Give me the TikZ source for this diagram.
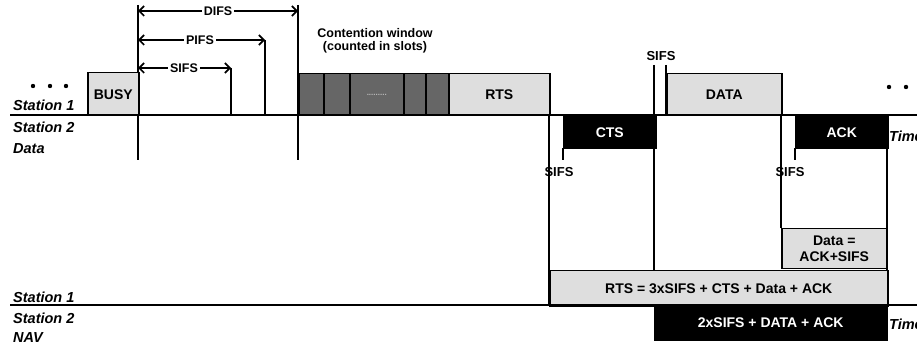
\documentclass[tikz,border=0pt]{standalone}
\usepackage{fontspec}
\setmainfont{Liberation Sans}
\usetikzlibrary{arrows.meta}
\definecolor{lightg}{RGB}{222,222,222}
\definecolor{darkg}{RGB}{102,102,102}
\begin{document}
\begin{tikzpicture}[x=1pt,y=-1pt,
  lbl/.style={font=\fontsize{14.5}{16}\selectfont\bfseries\itshape, anchor=west, inner sep=0pt},
  boxtxt/.style={font=\fontsize{14}{16}\selectfont\bfseries},
  gbox/.style={draw, line width=1.5pt, fill=lightg, boxtxt, inner sep=0pt, anchor=north west},
  bbox/.style={draw, line width=1.5pt, fill=black, text=white, boxtxt, inner sep=0pt, anchor=north west},
  slotbox/.style={draw, line width=1.5pt, fill=darkg, inner sep=0pt, anchor=north west, minimum height=42},
  tline/.style={line width=2.8pt},
  vl/.style={line width=1.6pt},
  dimline/.style={line width=1.6pt},
  dimlbl/.style={fill=white, font=\fontsize{12.5}{14}\selectfont\bfseries, inner sep=2pt},
  tip/.style={-{Straight Barb[length=5pt,width=10pt,line width=1.6pt]}},
  dtip/.style={{Straight Barb[length=5pt,width=10pt,line width=1.6pt]}-{Straight Barb[length=5pt,width=10pt,line width=1.6pt]}},
  sifslbl/.style={font=\fontsize{13}{14}\selectfont\bfseries, inner sep=0pt}
]
\useasboundingbox (0,0) rectangle (917,352);

% coordinates
\coordinate (tl0) at (10,115);
\coordinate (tl1) at (917,115);
\coordinate (bl0) at (10,305);
\coordinate (bl1) at (917,305);

% vertical timing lines
\coordinate (v1a) at (138,5);   \coordinate (v1b) at (138,160);
\coordinate (v2a) at (298,5);   \coordinate (v2b) at (298,160);
\coordinate (v3a) at (265,40);  \coordinate (v3b) at (265,115);
\coordinate (v4a) at (231,68);  \coordinate (v4b) at (231,115);
\coordinate (v5a) at (549,73);  \coordinate (v5b) at (549,305);
\coordinate (v6a) at (563,148); \coordinate (v6b) at (563,160);
\coordinate (v7a) at (654,65);  \coordinate (v7b) at (654,270);
\coordinate (v8a) at (666,65);  \coordinate (v8b) at (666,115);
\coordinate (v9a) at (781,73);  \coordinate (v9b) at (781,228);
\coordinate (v10a) at (795,148);\coordinate (v10b) at (795,160);
\coordinate (v11a) at (887,116);\coordinate (v11b) at (887,305);

\foreach \a/\b in {v1a/v1b,v2a/v2b,v3a/v3b,v4a/v4b,v5a/v5b,v6a/v6b,v7a/v7b,v8a/v8b,v9a/v9b,v10a/v10b,v11a/v11b}
  \draw[vl] (\a) -- (\b);

% dimension arrows
\coordinate (difsL) at (138,11); \coordinate (difsR) at (298,11);
\coordinate (pifsL) at (138,40); \coordinate (pifsR) at (265,40);
\coordinate (sifsL) at (138,68); \coordinate (sifsR) at (231,68);
\draw[dimline,dtip] (difsL) -- (difsR);
\draw[dimline,dtip] (pifsL) -- (pifsR);
\draw[dimline,dtip] (sifsL) -- (sifsR);
\node[dimlbl] (difs) at (218,11) {DIFS};
\node[dimlbl] (pifs) at (200,40) {PIFS};
\node[dimlbl] (sifs) at (184,68) {SIFS};

% contention window caption
\node[font=\fontsize{12.5}{13}\selectfont\bfseries, align=center, inner sep=0pt] (cw) at (375,41) {Contention window\\(counted in slots)};

% boxes
\node[gbox, minimum width=51, minimum height=43] (busy) at (87,72) {BUSY};
\node[slotbox, minimum width=25] (s1) at (298,73) {};
\node[slotbox, minimum width=26] (s2) at (323,73) {};
\node[slotbox, minimum width=54, text=lightg!70!darkg, font=\fontsize{8}{8}\selectfont\bfseries] (s3) at (349,73) {.........};
\node[slotbox, minimum width=22] (s4) at (403,73) {};
\node[slotbox, minimum width=23] (s5) at (425,73) {};
\node[gbox, minimum width=101, minimum height=42] (rts) at (448,73) {RTS};
\node[bbox, minimum width=92, minimum height=32] (cts) at (563,116) {CTS};
\node[gbox, minimum width=115, minimum height=42] (data) at (666,73) {DATA};
\node[bbox, minimum width=92, minimum height=32] (ack) at (795,116) {ACK};
\node[gbox, minimum width=105, minimum height=40, align=center, font=\fontsize{14}{16}\selectfont\bfseries] (dataeq) at (781,228) {Data =\\ACK+SIFS};
\node[gbox, minimum width=338, minimum height=35] (rtsnav) at (549,270) {RTS = 3xSIFS + CTS + Data + ACK};
\node[bbox, minimum width=232, minimum height=34] (nav) at (654,305) {2xSIFS + DATA + ACK};

% time lines
\draw[tline] (tl0) -- (tl1);
\draw[tline] (bl0) -- (bl1);

% SIFS labels
\node[sifslbl] (sifs1) at (559,172) {SIFS};
\node[sifslbl] (sifs2) at (661,56) {SIFS};
\node[sifslbl] (sifs3) at (790,172) {SIFS};

% row labels
\node[lbl] (st1a) at (13,105) {Station 1};
\node[lbl] (st2a) at (13,127) {Station 2};
\node[lbl] (dat) at (13,149) {Data};
\node[lbl] (st1b) at (13,297) {Station 1};
\node[lbl] (st2b) at (13,318) {Station 2};
\node[lbl] (navl) at (13,338) {NAV};
\node[lbl] (time1) at (889,136) {Time};
\node[lbl] (time2) at (889,324) {Time};

% dots
\foreach \x in {33,50,66} \fill (\x,86) circle (2.2);
\foreach \x in {889,906,923} \fill (\x,87) circle (2.2);
\end{tikzpicture}
\end{document}
